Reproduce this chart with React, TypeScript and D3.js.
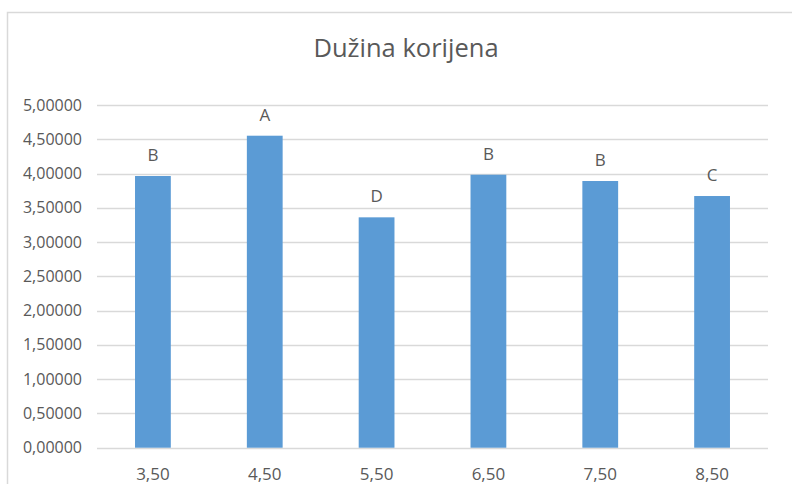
import React, { useEffect, useRef } from "react";
import * as d3 from "d3";

const categories = ["3,50", "4,50", "5,50", "6,50", "7,50", "8,50"];
const values = [3.964, 4.552, 3.361, 3.983, 3.891, 3.672];
const letters = ["B", "A", "D", "B", "B", "C"];
const yTicks = [0, 0.5, 1, 1.5, 2, 2.5, 3, 3.5, 4, 4.5, 5];

const TEXT = "#595959";
const GRID = "#d9d9d9";
const BAR = "#5b9bd5";
const FONT = "'Open Sans', sans-serif";

export default function App() {
  const svgRef = useRef<SVGSVGElement>(null);

  useEffect(() => {
    const svg = d3.select(svgRef.current);
    svg.selectAll("*").remove();

    const width = 792;
    const height = 484;
    const left = 97;
    const right = 768;
    const top = 105;
    const bottom = 447.7;

    svg.attr("width", width).attr("height", height);

    svg.append("rect")
      .attr("width", width)
      .attr("height", height)
      .attr("fill", "#fff");

    // frame of the chart area
    svg.append("path")
      .attr("d", `M7.5,${height} V12.5 H${width}`)
      .attr("fill", "none")
      .attr("stroke", GRID)
      .attr("stroke-width", 1.5);

    svg.append("text")
      .attr("x", 406)
      .attr("y", 57)
      .attr("text-anchor", "middle")
      .attr("font-family", FONT)
      .attr("font-size", 25.5)
      .attr("fill", TEXT)
      .text("Dužina korijena");

    const x = d3.scaleBand<string>()
      .domain(categories)
      .range([left, right])
      .paddingInner(0.68)
      .paddingOuter(0.34);

    const y = d3.scaleLinear().domain([0, 5]).range([bottom, top]);

    const grid = svg.append("g");
    grid.selectAll("line")
      .data(yTicks)
      .enter()
      .append("line")
      .attr("x1", left)
      .attr("x2", right)
      .attr("y1", d => Math.round(y(d)) + 0.5)
      .attr("y2", d => Math.round(y(d)) + 0.5)
      .attr("stroke", GRID)
      .attr("stroke-width", 1.5);

    grid.selectAll("text")
      .data(yTicks)
      .enter()
      .append("text")
      .attr("x", 82)
      .attr("y", d => y(d))
      .attr("dy", "0.35em")
      .attr("text-anchor", "end")
      .attr("font-family", FONT)
      .attr("font-size", 16)
      .attr("fill", TEXT)
      .text(d => d3.format(".5f")(d).replace(".", ","));

    const bars = svg.append("g");
    bars.selectAll("rect")
      .data(values)
      .enter()
      .append("rect")
      .attr("x", (d, i) => x(categories[i])!)
      .attr("width", x.bandwidth())
      .attr("y", d => y(d))
      .attr("height", d => bottom - y(d))
      .attr("fill", BAR);

    bars.selectAll("text")
      .data(values)
      .enter()
      .append("text")
      .attr("x", (d, i) => x(categories[i])! + x.bandwidth() / 2)
      .attr("y", d => y(d) - 15)
      .attr("text-anchor", "middle")
      .attr("font-family", FONT)
      .attr("font-size", 17)
      .attr("fill", TEXT)
      .text((d, i) => letters[i]);

    svg.append("g")
      .selectAll("text")
      .data(categories)
      .enter()
      .append("text")
      .attr("x", d => x(d)! + x.bandwidth() / 2)
      .attr("y", 480)
      .attr("text-anchor", "middle")
      .attr("font-family", FONT)
      .attr("font-size", 17)
      .attr("fill", TEXT)
      .text(d => d);
  }, []);

  return (
    <div style={{ position: "absolute", left: 0, top: 0 }}>
      <svg ref={svgRef}></svg>
    </div>
  );
}
